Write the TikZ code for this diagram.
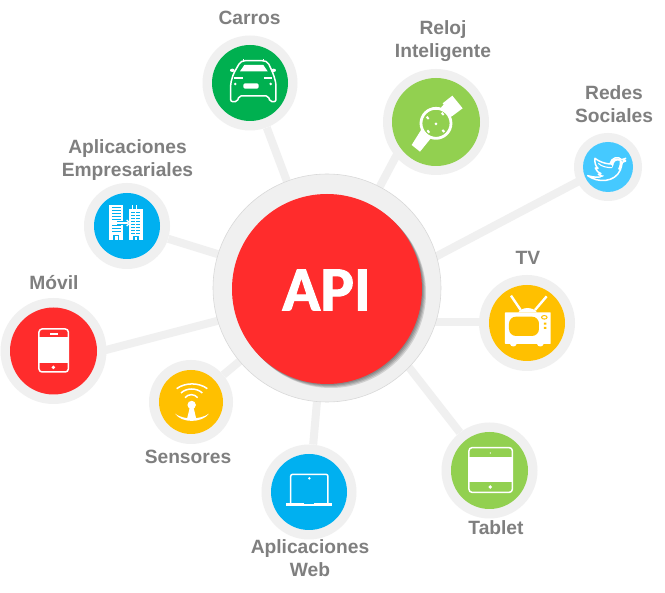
\documentclass[tikz,border=0pt]{standalone}
\usepackage{fontspec}
\setmainfont{Liberation Sans}
\newfontfamily\apifont[BoldFeatures={FakeBold=1.6}]{Carlito}
\usetikzlibrary{backgrounds}
\definecolor{ringgray}{HTML}{F0F0F0}
\definecolor{edgegray}{HTML}{D9D9D9}
\definecolor{labelgray}{HTML}{7F7F7F}
\definecolor{apired}{HTML}{FF2C2C}
\definecolor{cargreen}{HTML}{00B050}
\definecolor{lime}{HTML}{92D050}
\definecolor{skyblue}{HTML}{45C9FF}
\definecolor{sunyellow}{HTML}{FFC000}
\definecolor{deepsky}{HTML}{00B0F0}
\tikzset{
  ringnode/.style={circle,fill=ringgray,inner sep=0pt,minimum size=#1},
  disc/.style={circle,inner sep=0pt,minimum size=#1},
  lbl/.style={font=\fontsize{19.2}{23}\selectfont\bfseries,text=labelgray,align=center,inner sep=0pt},
  link/.style={draw=ringgray,line width=8pt},
  zm/.style args={#1,#2}{shift={(#1,#2)},x=.3333pt,y=-.3333pt},
  ico/.style={draw=white,line width=1.5pt,line join=round}
}
\begin{document}
\begin{tikzpicture}[x=1pt,y=-1pt]
\useasboundingbox (0,0) rectangle (665,593);
% rings
\node[ringnode=228pt,draw=edgegray,line width=.6pt] (api) at (327,288) {};
\node[ringnode=95pt]  (carros) at (250,83) {};
\node[ringnode=106pt] (reloj)  at (436,122) {};
\node[ringnode=68pt]  (redes)  at (608,167) {};
\node[ringnode=96pt]  (tv)     at (527,323) {};
\node[ringnode=86pt]  (empresa) at (127,226) {};
\node[ringnode=84pt]  (sensor) at (191,402) {};
\node[ringnode=95pt]  (web)    at (309,492) {};
\node[ringnode=106pt] (movil)  at (53.5,351) {};
\node[ringnode=96pt]  (tablet) at (489.5,470.5) {};
% connector ends inside the rings
\coordinate (redesEnd) at (600,170);
\coordinate (apiRedes) at (420,265);
\coordinate (movilEnd) at (60,362);
\coordinate (apiMovil) at (240,315);
\coordinate (relojEnd) at (410,130);
\coordinate (apiReloj) at (370,205);
\coordinate (tvEnd) at (500,322);
\coordinate (apiTv) at (420,322);
\coordinate (apiTablet) at (390,343);
\begin{pgfonlayer}{background}
\fill[white] (0,0) rectangle (665,593);
\draw[link] (carros) -- (api);
\draw[link] (relojEnd) -- (apiReloj);
\draw[link] (redesEnd) -- (apiRedes);
\draw[link] (tvEnd) -- (apiTv);
\draw[link] (tablet) -- (apiTablet);
\draw[link] (web) -- (api);
\draw[link] (sensor) -- (api);
\draw[link] (empresa) -- (api);
\draw[link] (movilEnd) -- (apiMovil);
\end{pgfonlayer}
% API disc with soft shadow
\foreach \d in {1,2,3,4}{\fill[black,opacity=.13] (327+\d,289+\d) circle[radius=95pt];}
\node[disc=190pt,fill=apired] (apidisc) at (327,289) {};
\node[text=white,font=\apifont\fontsize{63}{63}\selectfont\bfseries,inner sep=0pt] (apitxt) at (326.5,290) {API};
% discs
\node[disc=76pt,fill=cargreen] (d1) at (carros) {};
\node[disc=88pt,fill=lime] (d2) at (reloj) {};
\node[disc=50pt,fill=skyblue] (d3) at (redes) {};
\node[disc=76pt,fill=sunyellow] (d4) at (tv) {};
\node[disc=66pt,fill=deepsky] (d5) at (empresa) {};
\node[disc=64pt,fill=sunyellow] (d6) at (sensor) {};
\node[disc=76pt,fill=deepsky] (d7) at (web) {};
\node[disc=87pt,fill=apired] (d8) at (movil) {};
\node[disc=77pt,fill=lime] (d9) at (tablet) {};
% labels
\node[lbl] (l1) at (249.5,18) {Carros};
\node[lbl] (l2) at (443,41.5) {Reloj\\Inteligente};
\node[lbl] (l3) at (614,104.5) {Redes\\Sociales};
\node[lbl] (l4) at (127.5,160) {Aplicaciones\\Empresariales};
\node[lbl] (l5) at (528,258) {TV};
\node[lbl] (l6) at (54,283) {Móvil};
\node[lbl] (l7) at (188,457) {Sensores};
\node[lbl] (l8) at (310,558.5) {Aplicaciones\\Web};
\node[lbl] (l9) at (496,528) {Tablet};
% car icon
\begin{scope}[zm={190,30}]
\draw[ico,rounded corners=2pt] (122,215)--(122,160)--(130,132)--(150,97)--(160,92)--(222,92)--(234,97)--(250,132)--(258,160)--(258,215)--(240,215)--(235,198)--(147,198)--(142,215)--cycle;
\fill[white] (150,124)--(163,105)--(220,105)--(233,124)--cycle;
\fill[white,rounded corners=1.5pt] (160,160) rectangle (206,176);
\fill[white] (127,121) ellipse[x radius=7,y radius=5] (251,121) ellipse[x radius=7,y radius=5];
\fill[white] (136,162) circle[radius=1.4pt] (242,162) circle[radius=1.4pt];
\draw[white,line width=1.4pt] (132,144)--(158,144) (222,144)--(246,144) (160,92)--(160,87) (220,92)--(220,87);
\end{scope}
% watch icon
\begin{scope}[zm={375,60}]
\fill[white] (203,130)--(232,107)--(263,145)--(232,168)--cycle;
\fill[white] (198,142)--(208,132)--(238,162)--(226,172)--cycle;
\fill[white] (110,255)--(135,275)--(170,232)--(140,207)--cycle;
\fill[lime] (183,190) circle[radius=15pt];
\draw[white,line width=2.8pt] (183,190) circle[radius=15pt];
\draw[white,line width=2pt] (200,158)--(206,165) (155,170)--(161,177) (157,211)--(163,218) (202,210)--(208,216);
\fill[white] (183,192) circle[radius=1.5pt];
\end{scope}
% bird icon
\begin{scope}[zm={565,125}]
\draw[white,line width=1.5pt,line join=round] (182,100)--(170,104) .. controls (160,92) and (138,98) .. (135,117) .. controls (120,116) and (102,110) .. (90,100) .. controls (88,112) and (92,124) .. (99,130) -- (91,129) .. controls (94,138) and (100,143) .. (108,146) -- (100,148) .. controls (104,152) and (110,153) .. (116,154) .. controls (104,158) and (88,158) .. (68,152) .. controls (100,175) and (150,172) .. (166,135) .. controls (170,125) and (170,118) .. (172,112) -- (182,108) -- (175,106) -- cycle;
\draw[white,line width=1.1pt] (100,115) .. controls (110,125) and (125,128) .. (143,128) .. controls (140,115) and (150,104) .. (160,106);
\fill[white] (135,117) .. controls (140,100) and (155,97) .. (168,104) -- (172,112) .. controls (170,118) and (168,125) .. (165,135) -- (150,128) -- cycle;
\fill[skyblue] (145,122) .. controls (146,110) and (155,104) .. (164,108) .. controls (166,118) and (160,140) .. (140,152) .. controls (130,158) and (115,160) .. (100,160) .. controls (120,155) and (140,140) .. (145,122) -- cycle;
\end{scope}
% tv icon
\begin{scope}[zm={475,270}]
\fill[white,rounded corners=.5pt] (90,127) rectangle (227,222);
\fill[white] (130,127) .. controls (140,110) and (175,110) .. (186,127) -- cycle;
\fill[white] (105,222) .. controls (108,232) and (122,232) .. (125,222) -- cycle;
\fill[white] (186,222) .. controls (189,232) and (203,232) .. (206,222) -- cycle;
\draw[white,line width=2.4pt] (137,120)--(108,77) (180,120)--(215,79);
\fill[sunyellow,rounded corners=7pt] (102,140) rectangle (192,198);
\fill[sunyellow] (208,142) ellipse[x radius=10,y radius=7];
\fill[white] (208,142) ellipse[x radius=6,y radius=3.5];
\fill[sunyellow] (207,158) rectangle (214,164) (207,171) rectangle (214,177);
\end{scope}
% buildings icon
\begin{scope}[zm={80,180}]
\fill[white] (88,75) rectangle (130,180);
\fill[white] (147,88) rectangle (188,180);
\draw[white,line width=1pt] (157,88)--(157,75) (170,88)--(170,75);
\foreach \y in {83,92,101,110,119,137,146,155}{\draw[deepsky,line width=1.1pt] (96,\y)--(124,\y);}
\foreach \y in {98,107,116,125,134,143,152,161}{\draw[deepsky,line width=1.1pt,dash pattern=on 3.5pt off 1.5pt] (154,\y)--(182,\y);}
\fill[deepsky] (100,165) rectangle (118,180);
\fill[white] (105,168) rectangle (113,180);
\fill[deepsky] (160,167) rectangle (176,180);
\fill[white] (164,170) rectangle (172,180);
\fill[deepsky] (110,122) rectangle (147,136);
\draw[white,line width=1.2pt] (112,129)--(145,129);
\draw[white,line width=1.2pt] (140,120)--(149,129)--(140,138);
\end{scope}
% sensor icon
\begin{scope}[zm={145,355}]
\draw[white,line width=1.5pt] (95,101) .. controls (120,82) and (162,82) .. (187,101);
\draw[white,line width=1.5pt] (108,114) .. controls (125,98) and (155,98) .. (172,114);
\draw[white,line width=1.5pt] (120,128) .. controls (130,116) and (148,116) .. (158,128);
\fill[white] (140,150) circle[radius=4.2pt];
\fill[white] (135,155)--(145,155)--(154,192)--(126,192)--cycle;
\fill[white] (90,176) .. controls (115,195) and (165,195) .. (192,176) .. controls (170,205) and (110,205) .. (90,176) -- cycle;
\end{scope}
% laptop icon
\begin{scope}[zm={260,445}]
\draw[ico,rounded corners=2pt] (92,174)--(92,88)--(204,88)--(204,174);
\fill[white] (78,174) rectangle (216,183);
\fill[deepsky] (133,174) rectangle (162,177);
\fill[white] (148,100) circle[radius=1.4pt];
\end{scope}
% phone icon
\begin{scope}[zm={0,290}]
\draw[ico,rounded corners=3pt] (117,117) rectangle (205,246);
\fill[white] (117,141) rectangle (205,218);
\fill[white] (149,129) rectangle (173,134);
\fill[white] (160,232) circle[radius=1.9pt];
\end{scope}
% tablet icon
\begin{scope}[zm={440,425}]
\draw[ico,rounded corners=3pt] (87,68) rectangle (217,202);
\fill[white] (87,95) rectangle (217,172);
\fill[white] (151,84) circle[radius=.7pt];
\fill[white] (151,186) circle[radius=1.9pt];
\end{scope}
\end{tikzpicture}
\end{document}
